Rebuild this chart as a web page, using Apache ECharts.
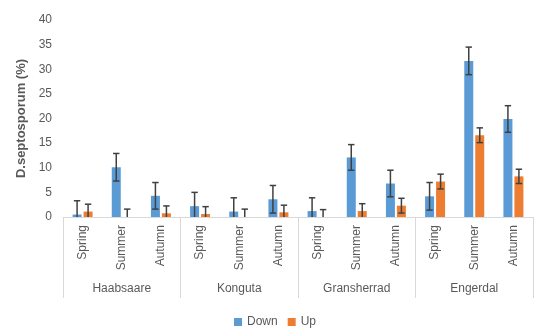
<!DOCTYPE html>
<html>
<head>
<meta charset="utf-8">
<script src="https://cdn.jsdelivr.net/npm/echarts@6/dist/echarts.min.js"></script>
<style>html,body{margin:0;padding:0;background:#fff;}#c{width:550px;height:332px;}</style>
</head>
<body>
<div id="c"></div>
<script>
const seasons = ['Spring','Summer','Autumn','Spring','Summer','Autumn','Spring','Summer','Autumn','Spring','Summer','Autumn'];
const sites = ['Haabsaare','Konguta','Gransherrad','Engerdal'];
const downValues = [0.5, 10.1, 4.3, 2.2, 1.1, 3.6, 1.2, 12.1, 6.8, 4.2, 31.7, 19.9];
const upValues = [1.1, 0, 0.75, 0.6, 0, 0.95, 0, 1.2, 2.3, 7.2, 16.6, 8.25];
const downErr = [2.8, 2.8, 2.7, 2.8, 2.8, 2.8, 2.7, 2.6, 2.7, 2.8, 2.8, 2.7];
const upErr = [1.5, 1.6, 1.5, 1.5, 1.6, 1.45, 1.5, 1.5, 1.5, 1.5, 1.5, 1.45];
const yTicks = [0, 5, 10, 15, 20, 25, 30, 35, 40];

const FONT = 'Liberation Sans';
const TXT = '#595959';
const chart = echarts.init(document.getElementById('c'));

function errSeries(vals, errs, offset) {
  return {
    type: 'custom',
    silent: true,
    z: 10,
    data: vals.map((v, i) => [i, v, errs[i]]),
    renderItem: function (params, api) {
      const i = api.value(0), v = api.value(1), e = api.value(2);
      const lo = Math.max(0, v - e);
      const pTop = api.coord([i, v + e]);
      const pBot = api.coord([i, lo]);
      const x = pTop[0] + offset;
      const cap = 3.2;
      const style = { stroke: '#404040', lineWidth: 1.5 };
      const children = [
        { type: 'line', shape: { x1: x, y1: pTop[1], x2: x, y2: pBot[1] }, style: style },
        { type: 'line', shape: { x1: x - cap, y1: pTop[1], x2: x + cap, y2: pTop[1] }, style: style }
      ];
      if (v - e >= 0) {
        children.push({ type: 'line', shape: { x1: x - cap, y1: pBot[1], x2: x + cap, y2: pBot[1] }, style: style });
      }
      return { type: 'group', children: children };
    }
  };
}

chart.setOption({
  animation: false,
  textStyle: { fontFamily: FONT },
  grid: { left: 63, right: 17, top: 20, bottom: 115 },
  legend: {
    data: ['Down', 'Up'],
    left: 'center',
    top: 311,
    icon: 'rect',
    itemWidth: 8,
    itemHeight: 8,
    itemGap: 10,
    textStyle: { color: TXT, fontSize: 12, fontFamily: FONT }
  },
  xAxis: [
    {
      type: 'category',
      data: seasons,
      position: 'bottom',
      axisLine: { lineStyle: { color: '#d9d9d9', width: 1 } },
      axisTick: { show: false },
      axisLabel: { rotate: 90, color: TXT, fontSize: 12, margin: 8, interval: 0, fontFamily: FONT }
    },
    {
      type: 'category',
      data: sites,
      position: 'bottom',
      axisLine: { show: false },
      axisTick: { show: true, length: 81, lineStyle: { color: '#d9d9d9', width: 1 } },
      axisLabel: { color: TXT, fontSize: 12, margin: 66, interval: 0, fontFamily: FONT }
    }
  ],
  yAxis: {
    type: 'value',
    min: yTicks[0],
    max: yTicks[yTicks.length - 1],
    interval: 5,
    name: 'D.septosporum (%)',
    nameLocation: 'middle',
    nameGap: 31,
    nameTextStyle: { color: TXT, fontSize: 13, fontWeight: 'bold', fontFamily: FONT },
    axisLine: { show: false },
    axisTick: { show: false },
    splitLine: { show: false },
    axisLabel: { color: TXT, fontSize: 12, margin: 11, fontFamily: FONT }
  },
  series: [
    { name: 'Down', type: 'bar', xAxisIndex: 0, data: downValues, barWidth: 9, barGap: '22%', itemStyle: { color: '#5B9BD5' } },
    { name: 'Up', type: 'bar', xAxisIndex: 0, data: upValues, barWidth: 9, barGap: '22%', itemStyle: { color: '#ED7D31' } },
    errSeries(downValues, downErr, -5.5),
    errSeries(upValues, upErr, 5.5)
  ]
});
</script>
</body>
</html>
